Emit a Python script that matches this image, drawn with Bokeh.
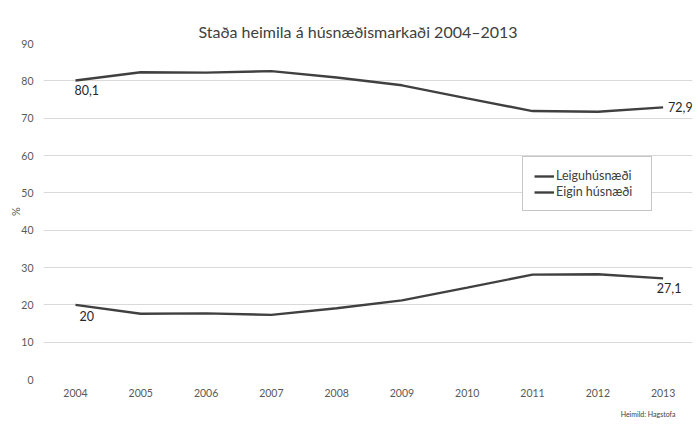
from bokeh.plotting import figure
from bokeh.models import Range1d, Legend, LegendItem, FixedTicker, ColumnDataSource, Title
from bokeh.core.properties import value
from bokeh.embed import file_html
from bokeh.resources import INLINE

years = [2004, 2005, 2006, 2007, 2008, 2009, 2010, 2011, 2012, 2013]
eigin = [80.1, 82.3, 82.2, 82.6, 80.9, 78.8, 75.3, 71.9, 71.7, 72.9]
leigu = [20.0, 17.6, 17.7, 17.3, 19.1, 21.2, 24.6, 28.1, 28.2, 27.1]
series_names = ["Leiguhúsnæði", "Eigin húsnæði"]
y_ticks = [0, 10, 20, 30, 40, 50, 60, 70, 80, 90]
title_text = "Staða heimila á húsnæðismarkaði 2004–2013"
source_text = "Heimild: Hagstofa"
y_label = "%"

FONT = "Lato"
LINE = "#404040"
X0, X1 = 2003.51, 2013.45

p = figure(width=697, height=430, output_backend="svg", toolbar_location=None,
           x_range=Range1d(X0, X1), y_range=Range1d(0, 90),
           min_border_left=43, min_border_right=5, min_border_top=43, min_border_bottom=51)
p.outline_line_color = None
p.background_fill_color = "white"
p.border_fill_color = "white"

# title
p.title.text = title_text
p.title.align = "left"
p.title.offset = 155
p.title.text_font = FONT
p.title.text_font_size = "16px"
p.title.text_font_style = "normal"
p.title.text_color = "#404040"
p.title.standoff = 5

# axes
p.xaxis.ticker = FixedTicker(ticks=years)
p.yaxis.ticker = FixedTicker(ticks=y_ticks)
for ax in (p.xaxis[0], p.yaxis[0]):
    ax.axis_line_color = None
    ax.major_tick_line_color = None
    ax.minor_tick_line_color = None
    ax.major_tick_out = 0
    ax.major_tick_in = 0
    ax.major_label_text_font = FONT
    ax.major_label_text_font_size = "10.5px"
    ax.major_label_text_color = "#595959"
p.xaxis.major_label_standoff = 9
p.yaxis.major_label_standoff = 10
p.yaxis.axis_label = y_label
p.yaxis.axis_label_standoff = -4
p.yaxis.axis_label_text_font = FONT
p.yaxis.axis_label_text_font_size = "11px"
p.yaxis.axis_label_text_font_style = "normal"
p.yaxis.axis_label_text_color = "#595959"

p.xgrid.grid_line_color = None
p.ygrid.grid_line_color = "#d9d9d9"
p.ygrid.grid_line_width = 1

r_leigu = p.line(years, leigu, line_color=LINE, line_width=2.4)
r_eigin = p.line(years, eigin, line_color=LINE, line_width=2.4)

# data labels
lab_src = ColumnDataSource(dict(
    x=[years[0], years[0], years[-1], years[-1]],
    y=[eigin[0], leigu[0], eigin[-1], leigu[-1]],
    t=[f"{eigin[0]:.1f}".replace(".", ","), f"{leigu[0]:g}",
       f"{eigin[-1]:.1f}".replace(".", ","), f"{leigu[-1]:.1f}".replace(".", ",")],
    xo=[-1, 4, 5, 6],
    yo=[5, 6, 0, 5],
    al=["left", "left", "left", "center"],
    bl=["top", "top", "middle", "top"],
))
p.text(x="x", y="y", text="t", x_offset="xo", y_offset="yo", text_align="al",
       text_baseline="bl", source=lab_src, text_font=value(FONT),
       text_font_size="12.5px", text_color="#262626")

# source note
src = Title(text=source_text, align="right", offset=17, standoff=17, text_font=FONT,
            text_font_size="7px", text_font_style="normal", text_color="#404040")
p.add_layout(src, "below")

legend = Legend(items=[LegendItem(label=series_names[0], renderers=[r_leigu]),
                       LegendItem(label=series_names[1], renderers=[r_eigin])],
                location=(479, 168), orientation="vertical")
legend.label_text_font = FONT
legend.label_text_font_size = "12.5px"
legend.label_text_color = "#404040"
legend.glyph_width = 20
legend.glyph_height = 14
legend.label_height = 14
legend.label_width = 84
legend.label_standoff = 2
legend.spacing = 1
legend.padding = 11
legend.margin = 0
legend.border_line_color = "#8c8c8c"
legend.border_line_width = 1
legend.background_fill_alpha = 1
p.add_layout(legend)

open("out.html", "w").write(file_html(p, INLINE))
